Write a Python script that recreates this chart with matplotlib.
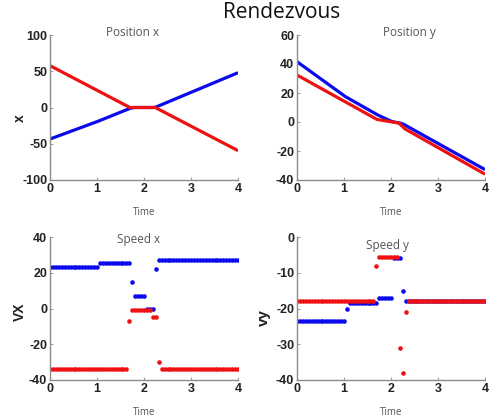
import numpy as np
import matplotlib
matplotlib.use("Agg")
import matplotlib.pyplot as plt

# sample times of the speed logs (1/16 s step)
t = np.arange(65) / 16

# speed x
vx_blue = [23.0] * 17 + [25.5] * 11 + [15.0] + [7.0] * 4 + [-0.5] * 3 + [22.0] + [27.0] * 28
vx_red = [-34.0] * 27 + [-7.0] + [-1.0] * 7 + [-5.0] * 2 + [-30.0] + [-34.0] * 27

# speed y
vy_blue = [-23.5] * 17 + [-20.0] + [-18.5] * 10 + [-17.0] * 5 + [-6.0] * 3 + [-15.0] + [-18.0] * 28
vy_red = [-18.0] * 27 + [-8.0] + [-5.5] * 7 + [-31.0] + [-38.0] + [-21.0] + [-18.0] * 27

# position x (polyline vertices)
px_blue_t = [0, 1.03, 1.71, 1.8, 2.2, 2.26, 4]
px_blue = [-43.5, -18.8, -1, 0, 0, 0.8, 48]
px_red_t = [0, 1.7, 2.24, 4]
px_red = [57.7, 0, 0, -59.5]

# position y (polyline vertices)
py_blue_t = [0, 1.03, 1.72, 2.02, 2.2, 2.27, 4]
py_blue = [41.6, 17.5, 4.8, 0.3, -0.8, -1.6, -32.8]
py_red_t = [0, 1.7, 2.17, 2.3, 4]
py_red = [32.4, 1.8, -0.8, -4.8, -36]

BLUE = "#0a0aec"
RED = "#ee1111"
GRAY = "#8c8c8c"

plt.rcParams["font.family"] = ["Liberation Sans", "DejaVu Sans"]
plt.rcParams["axes.unicode_minus"] = False

fig = plt.figure(figsize=(4.9, 4.18), dpi=100)
W, H = 490, 418


def make_axes(left, top, right, bottom):
    return fig.add_axes([left / W, 1 - bottom / H, (right - left) / W, (bottom - top) / H])


ax1 = make_axes(50, 35, 238, 180)
ax2 = make_axes(297, 35, 485, 180)
ax3 = make_axes(50, 237, 238, 380)
ax4 = make_axes(297, 237, 485, 380)

ax1.plot(px_blue_t, px_blue, color=BLUE, lw=2.3, solid_capstyle="butt")
ax1.plot(px_red_t, px_red, color=RED, lw=2.3, solid_capstyle="butt")
ax2.plot(py_blue_t, py_blue, color=BLUE, lw=2.3, solid_capstyle="butt")
ax2.plot(py_red_t, py_red, color=RED, lw=2.3, solid_capstyle="butt")

ax3.plot(t, vx_blue, "o", color=BLUE, ms=3.3, mew=0)
ax3.plot(t, vx_red, "o", color=RED, ms=3.3, mew=0)
ax4.plot(t, vy_blue, "o", color=BLUE, ms=3.3, mew=0)
ax4.plot(t, vy_red, "o", color=RED, ms=3.3, mew=0)

ax1.set_ylim(-100, 100)
ax1.set_yticks([-100, -50, 0, 50, 100])
ax2.set_ylim(-40, 60)
ax2.set_yticks([-40, -20, 0, 20, 40, 60])
ax3.set_ylim(-40, 40)
ax3.set_yticks([-40, -20, 0, 20, 40])
ax4.set_ylim(-40, 0)
ax4.set_yticks([-40, -30, -20, -10, 0])

titles = {ax1: ("Position x", 0.44, 1.016), ax2: ("Position y", 0.60, 1.014),
          ax3: ("Speed x", 0.47, 0.982), ax4: ("Speed y", 0.48, 0.942)}

for ax in (ax1, ax2, ax3, ax4):
    ax.set_xlim(0, 4)
    ax.set_xticks([0, 1, 2, 3, 4])
    for side in ("top", "right"):
        ax.spines[side].set_visible(False)
    for side in ("left", "bottom"):
        ax.spines[side].set_color(GRAY)
        ax.spines[side].set_linewidth(1.0)
    ax.tick_params(direction="in", length=2, width=0.6, color=GRAY,
                   labelsize=9, labelcolor="#222222", pad=2)
    for lbl in ax.get_xticklabels() + ax.get_yticklabels():
        lbl.set_fontweight("bold")
    ax.set_xlabel("Time", fontsize=7, color="#555555", family="Open Sans", labelpad=9)
    text, tx, ty = titles[ax]
    ax.text(tx, ty, text, transform=ax.transAxes, ha="center", va="center",
            fontsize=8.5, color="#555555", family="Open Sans")

ax1.set_ylabel("x", fontsize=10, fontweight="bold", color="#222222")
ax1.yaxis.set_label_coords(-23 / 188, 0.43)
ax3.set_ylabel("VX", fontsize=10, fontweight="bold", color="#222222")
ax3.yaxis.set_label_coords(-23 / 188, 0.48)
ax4.set_ylabel("vy", fontsize=11, fontweight="bold", color="#222222")
ax4.yaxis.set_label_coords(-26 / 188, 0.44)

fig.text(282 / W, 1 - 13 / H, "Rendezvous", ha="center", va="center",
         fontsize=15, family="Open Sans", color="#111111")

fig.savefig("out.png", dpi=100)
